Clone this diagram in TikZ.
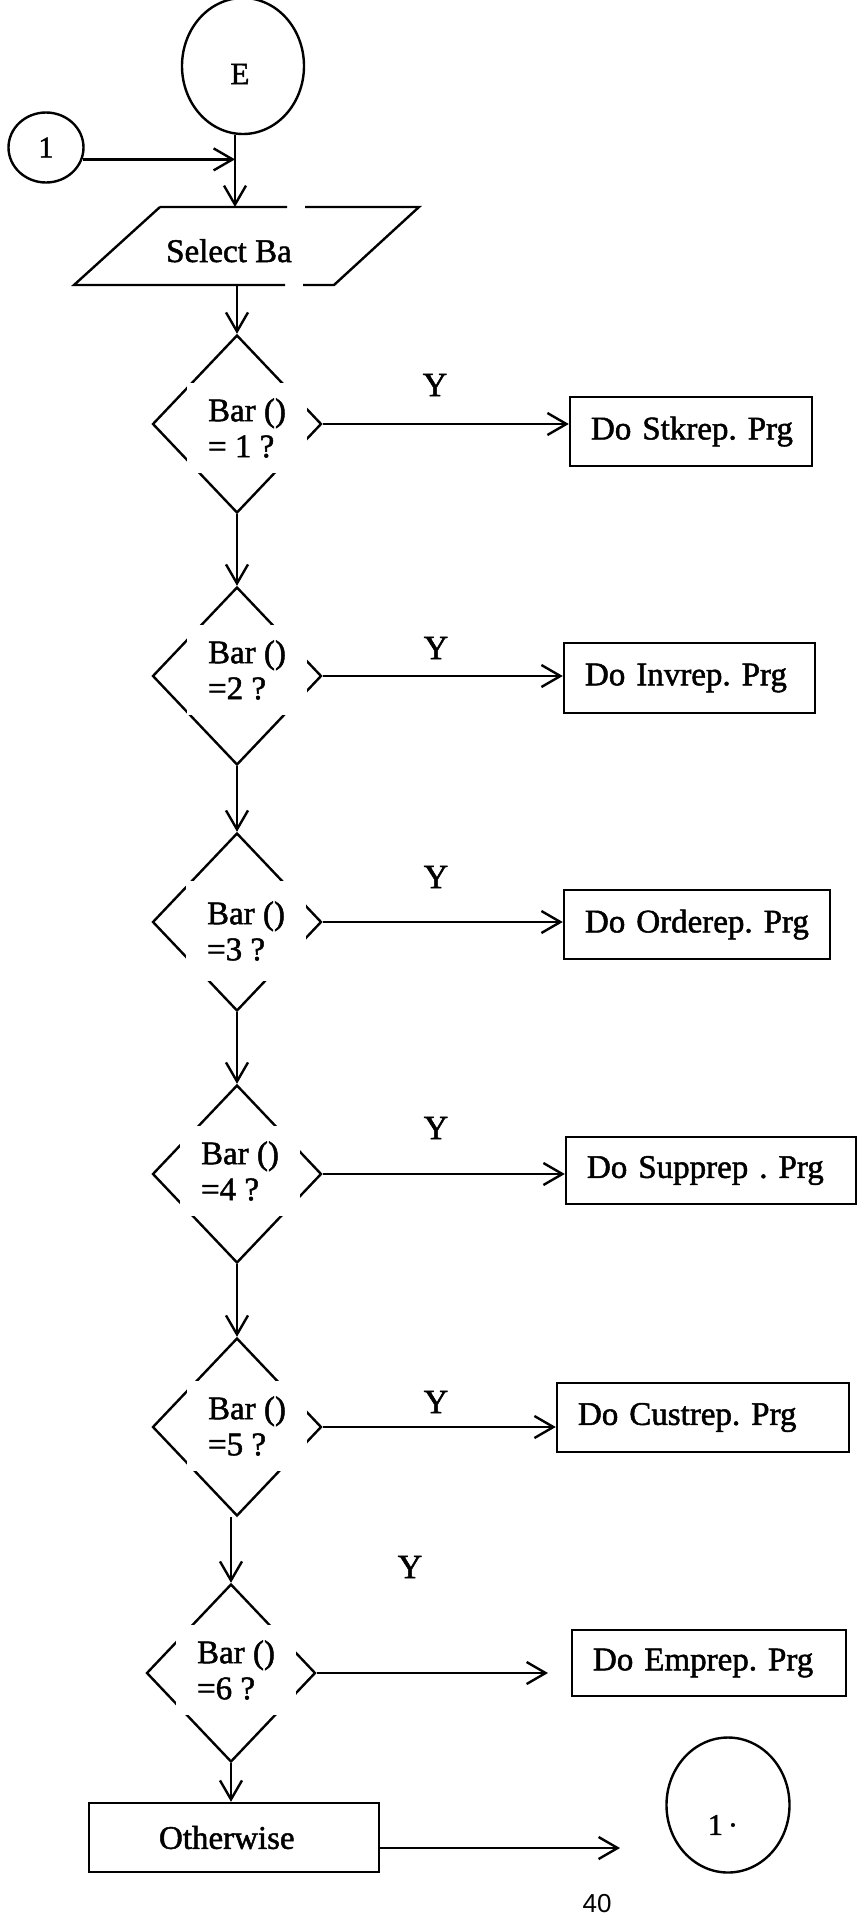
\documentclass[tikz,border=0pt]{standalone}
\usepackage{fontspec}
\setmainfont{Liberation Serif}[FakeBold=1.5]
\newfontfamily\folio{Liberation Sans}
\usetikzlibrary{shapes.geometric,arrows.meta,calc}

\begin{document}
\frenchspacing
\begin{tikzpicture}[x=1pt,y=-1pt,
  line width=2.4pt,
  every node/.style={font=\fontsize{33}{36}\selectfont, inner sep=0pt},
  flow/.style={-{Straight Barb[length=19pt,width=22pt]}},
  decision/.style={diamond, draw, minimum width=169pt, minimum height=178pt},
  cond/.style={fill=white, minimum width=120pt, minimum height=90pt, align=left},
  taskbox/.style={draw, inner xsep=21pt, align=left},
  connector/.style={ellipse, draw},
  yes/.style={font=\fontsize{34}{36}\selectfont},
]
\useasboundingbox (0,0) rectangle (862,1922);

% entry connectors
\node[connector, minimum width=122pt, minimum height=136pt,
      label={[yshift=-8pt, xshift=-3pt, font=\fontsize{31}{33}\selectfont]center:E}] (E) at (243,66) {};
\node[connector, minimum width=75pt, minimum height=70pt,
      font=\fontsize{30}{32}\selectfont] (c1) at (46,147.5) {1};

% input step: "Select Bar"
\coordinate (ptop) at (235,207);
\coordinate (pbot) at (237,285);
\draw (160,207) -- (287,207) (305,207) -- (419,207) -- (334,285) -- (303,285)
      (285,285) -- (74,285) -- (160,207);
\node[anchor=base west] (sel) at (165,262) {Select Ba};

\draw[flow] (E.south -| ptop) -- (ptop);
\draw[flow] (c1.-18) -- (c1.-18 -| ptop);

% decisions
\node[decision] (d1) at (237,424) {};
\node[cond] (q1) at ($(d1)+(10,4)$) {Bar ()\\= 1 ?};
\node[decision] (d2) at (237,676) {};
\node[cond] (q2) at ($(d2)+(10,-6)$) {Bar ()\\=2 ?};
\node[decision] (d3) at (237,922) {};
\node[cond, minimum height=100pt] (q3) at ($(d3)+(9,9)$) {Bar ()\\=3 ?};
\node[decision] (d4) at (237,1174) {};
\node[cond] (q4) at ($(d4)+(3,-3)$) {Bar ()\\=4 ?};
\node[decision] (d5) at (237,1427) {};
\node[cond] (q5) at ($(d5)+(10,-1)$) {Bar ()\\=5 ?};
\node[decision] (d6) at (231,1673) {};
\node[cond] (q6) at ($(d6)+(5,-3)$) {Bar ()\\=6 ?};

% report programs
\node[taskbox, text width=200pt, minimum height=69pt] (b1) at (691,431.5) {\mbox{Do Stkrep. Prg}};
\node[taskbox, text width=209pt, minimum height=70pt] (b2) at (689.5,678) {\mbox{Do Invrep. Prg}};
\node[taskbox, text width=224pt, minimum height=69pt] (b3) at (697,924.5) {\mbox{Do Orderep. Prg}};
\node[taskbox, text width=248pt, minimum height=67pt] (b4) at (711,1170.5) {\mbox{Do Supprep . Prg}};
\node[taskbox, text width=250pt, minimum height=69pt] (b5) at (703,1417.5) {\mbox{Do Custrep. Prg}};
\node[taskbox, text width=232pt, minimum height=66pt] (b6) at (709,1663) {\mbox{Do Emprep. Prg}};

% fall-through
\node[taskbox, inner xsep=70pt, text width=150pt, minimum height=69pt] (ob) at (234,1837.5) {\mbox{Otherwise}};
\node[connector, minimum width=123pt, minimum height=135pt,
      label={[yshift=-20pt, xshift=-5pt, font=\fontsize{30}{32}\selectfont]center:1\,·}] (c2) at (728,1805) {};

% yes labels
\node[yes] (y1) at (435,385) {Y};
\node[yes] (y2) at (436,648) {Y};
\node[yes] (y3) at (436,877) {Y};
\node[yes] (y4) at (436,1128) {Y};
\node[yes] (y5) at (436,1402) {Y};
\node[yes] (y6) at (410,1567) {Y};

% main flow
\draw[flow] (pbot) -- (d1.north);
\draw[flow] (d1.south) -- (d2.north);
\draw[flow] (d2.south) -- (d3.north);
\draw[flow] (d3.south) -- (d4.north);
\draw[flow] (d4.south) -- (d5.north);
\draw[flow] (d5.south -| d6.north) -- (d6.north);
\draw[flow] (d6.south) -- (d6.south |- ob.north);

% yes branches
\draw[flow] (d1.east) -- (d1.east -| b1.west);
\draw[flow] (d2.east) -- (d2.east -| b2.west);
\draw[flow] (d3.east) -- (d3.east -| b3.west);
\draw[flow] (d4.east) -- (d4.east -| b4.west);
\draw[flow] (d5.east) -- (d5.east -| b5.west);
\coordinate (d6end) at (548,1673);
\draw[flow] (d6.east) -- (d6end);

% loop back
\coordinate (loopend) at (620,1848);
\draw[flow] (ob.east |- loopend) -- (loopend);

% page number
\node[font=\folio\fontsize{26}{28}\selectfont] (pg) at (597,1904) {40};
\end{tikzpicture}
\end{document}
